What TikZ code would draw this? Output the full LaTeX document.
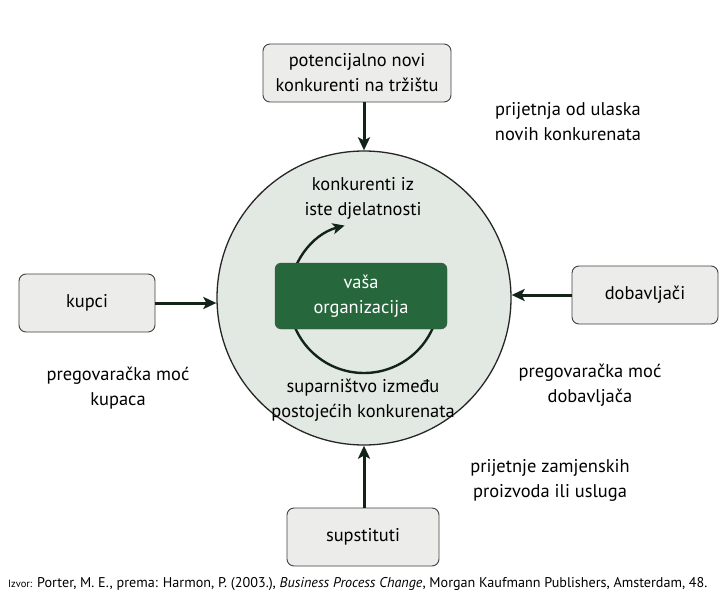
\documentclass[tikz,border=0pt]{standalone}
\usepackage{fontspec}
\setmainfont{PT Sans}
\usetikzlibrary{arrows.meta}
\definecolor{boxgray}{RGB}{236,237,234}
\definecolor{ringfill}{RGB}{226,233,226}
\definecolor{orggreen}{RGB}{38,104,60}
\definecolor{arrowgreen}{RGB}{18,36,24}

\begin{document}
\begin{tikzpicture}[x=1bp,y=-1bp,
    force/.style={draw=black!75, fill=boxgray, rounded corners=7bp, line width=0.9bp,
        align=center, minimum height=58bp, font=\fontsize{18.5}{25}\selectfont},
    label/.style={align=center, font=\fontsize{18.5}{25}\selectfont},
    push/.style={-{Stealth[length=13bp,width=12bp,inset=3bp]}, line width=3bp, draw=arrowgreen},
    rival/.style={-{Stealth[length=12bp,width=11bp,inset=3bp]}, line width=2.4bp, draw=arrowgreen}]
    \useasboundingbox (0,0) rectangle (725,595);
    % the market ring
    \coordinate (c) at (364,298);
    \node[circle, draw=black!85, fill=ringfill, line width=1.3bp, minimum size=294bp, inner sep=0pt] (ring) at (c) {};
    \draw[rival] ([shift={(0:75)}]c) arc[start angle=0, end angle=255, radius=75];
    \node[fill=orggreen, draw=black!70, rounded corners=6bp, minimum width=172bp, minimum height=66bp,
        text=white, align=center, font=\fontsize{18.5}{25}\selectfont] (org) at (361,296) {vaša\\organizacija};
    % the four forces
    \node[force, minimum width=188bp] (novi) at (357,73) {potencijalno novi\\konkurenti na tržištu};
    \node[force, minimum width=136bp] (kupci) at (87,303) {kupci};
    \node[force, minimum width=146bp] (dob) at (645,295) {dobavljači};
    \node[force, minimum width=152bp] (sups) at (363,537) {supstituti};
    \draw[push] (novi.south -| ring.north) -- (ring.north);
    \draw[push] (kupci.east) -- (kupci.east -| ring.west);
    \draw[push] (dob.west) -- (dob.west -| ring.east);
    \draw[push] (sups.north -| ring.south) -- (ring.south);
    % labels
    \node[label] (l1) at (568,122) {prijetnja od ulaska\\novih konkurenata};
    \node[label] (l2) at (118,388) {pregovaračka moć\\kupaca};
    \node[label] (l3) at (590,385) {pregovaračka moć\\dobavljača};
    \node[label] (l4) at (550,480) {prijetnje zamjenskih\\proizvoda ili usluga};
    \node[label] (l5) at (363,198) {konkurenti iz\\iste djelatnosti};
    \node[label] (l6) at (363,400) {suparništvo između\\postojećih konkurenata};
    \node[anchor=west, font=\fontsize{14.2}{16}\selectfont, inner sep=0pt] (izvor) at (8,584)
        {{\fontsize{10.5}{12}\selectfont Izvor:} Porter, M. E., prema: Harmon, P. (2003.), \emph{Business Process Change}, Morgan Kaufmann Publishers, Amsterdam, 48.};
\end{tikzpicture}
\end{document}
